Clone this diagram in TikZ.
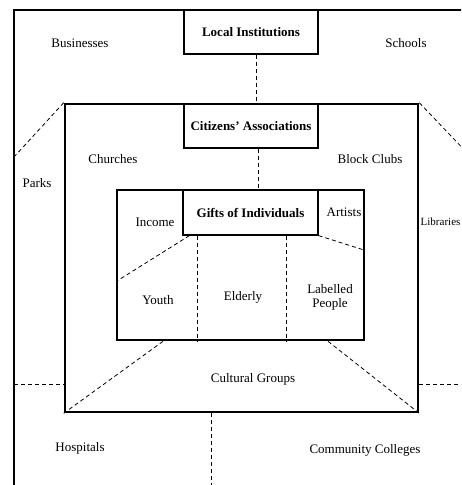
\documentclass[tikz,border=0pt]{standalone}
\usepackage{fontspec}
\setmainfont{Liberation Serif}
\usetikzlibrary{calc}

\begin{document}
\begin{tikzpicture}[
    x=1pt, y=-1pt,
    ring/.style={
      rectangle, draw=black, line width=#1, inner sep=0pt
    },
    ring/.default=2.6pt,
    head/.style={
      rectangle, draw=black, fill=white, line width=1.2pt,
      minimum width=134pt, minimum height=44pt,
      font=\fontsize{13}{14}\selectfont\bfseries
    },
    lbl/.style={font=\fontsize{13}{14}\selectfont, align=center, inner sep=1pt},
    link/.style={line width=0.8pt, dash pattern=on 4pt off 3pt}
  ]

  \useasboundingbox (0,0) rectangle (461,485);
  \clip (0,0) rectangle (461,485);

  %% Three nested rings
  \node[ring=1.9pt, minimum width=466pt, minimum height=490pt] (institutions) at (247,255) {};
  \node[ring, minimum width=353pt, minimum height=308pt]       (associations) at (241.5,258) {};
  \node[ring, minimum width=247pt, minimum height=150pt]       (individuals) at (240.5,265) {};

  %% Ring titles
  \node[head] (localhead)   at (251,32)    {Local Institutions};
  \node[head] (citizenhead) at (251,126)   {Citizens' Associations};
  \node[head, minimum width=135pt, minimum height=45pt] (giftshead) at (250.5,212.5) {Gifts of Individuals};

  %% Free ends of the dividers
  \coordinate (parksedge)   at (14,157);
  \coordinate (libedge)     at (472,158);
  \coordinate (leftmid)     at (14,384);
  \coordinate (rightmid)    at (470,384);
  \coordinate (bottomedge)  at (211,490);
  \coordinate (youthedge)   at (117,281);
  \coordinate (artistedge)  at (364,250);

  %% Outer ring dividers
  \draw[link] ([xshift=5pt]localhead.south) -- ([xshift=5pt]localhead.south |- associations.north);
  \draw[link] (associations.north west) -- (parksedge);
  \draw[link] (associations.north east) -- (libedge);
  \draw[link] (leftmid) -- (leftmid -| associations.west);
  \draw[link] (rightmid -| associations.east) -- (rightmid);
  \draw[link] (bottomedge |- associations.south) -- (bottomedge);

  %% Middle ring dividers
  \draw[link] ([xshift=7pt]citizenhead.south) -- ([xshift=7pt]citizenhead.south |- individuals.north);
  \draw[link] (individuals.south -| 163,0) -- (associations.south west);
  \draw[link] (individuals.south -| 328,0) -- (associations.south east);

  %% Inner ring dividers
  \draw[link] ([xshift=7pt]giftshead.south west) -- (youthedge);
  \draw[link] (giftshead.south east) -- (artistedge);
  \draw[link] (giftshead.south -| 197,0) -- (individuals.south -| 197,0);
  \draw[link] (giftshead.south -| 286,0) -- (individuals.south -| 286,0);

  %% Local institutions
  \node[lbl] (businesses) at (80,43)   {Businesses};
  \node[lbl] (schools)    at (406,43)  {Schools};
  \node[lbl] (parks)      at (37,183)  {Parks};
  \node[lbl, anchor=west, font=\fontsize{11}{12}\selectfont, inner sep=0.5pt] (libraries) at (420,222) {Libraries};
  \node[lbl] (hospitals)  at (80,448)  {Hospitals};
  \node[lbl] (colleges)   at (365,450) {Community Colleges};

  %% Citizens' associations
  \node[lbl] (churches)   at (113,159) {Churches};
  \node[lbl] (blockclubs) at (370,159) {Block Clubs};
  \node[lbl] (cultural)   at (253,379) {Cultural Groups};

  %% Gifts of individuals
  \node[lbl] (income)     at (155,222) {Income};
  \node[lbl] (artists)    at (344,212) {Artists};
  \node[lbl] (youth)      at (158,300) {Youth};
  \node[lbl] (elderly)    at (243,297) {Elderly};
  \node[lbl] (labelled)   at (330,297) {Labelled\\People};

\end{tikzpicture}
\end{document}
